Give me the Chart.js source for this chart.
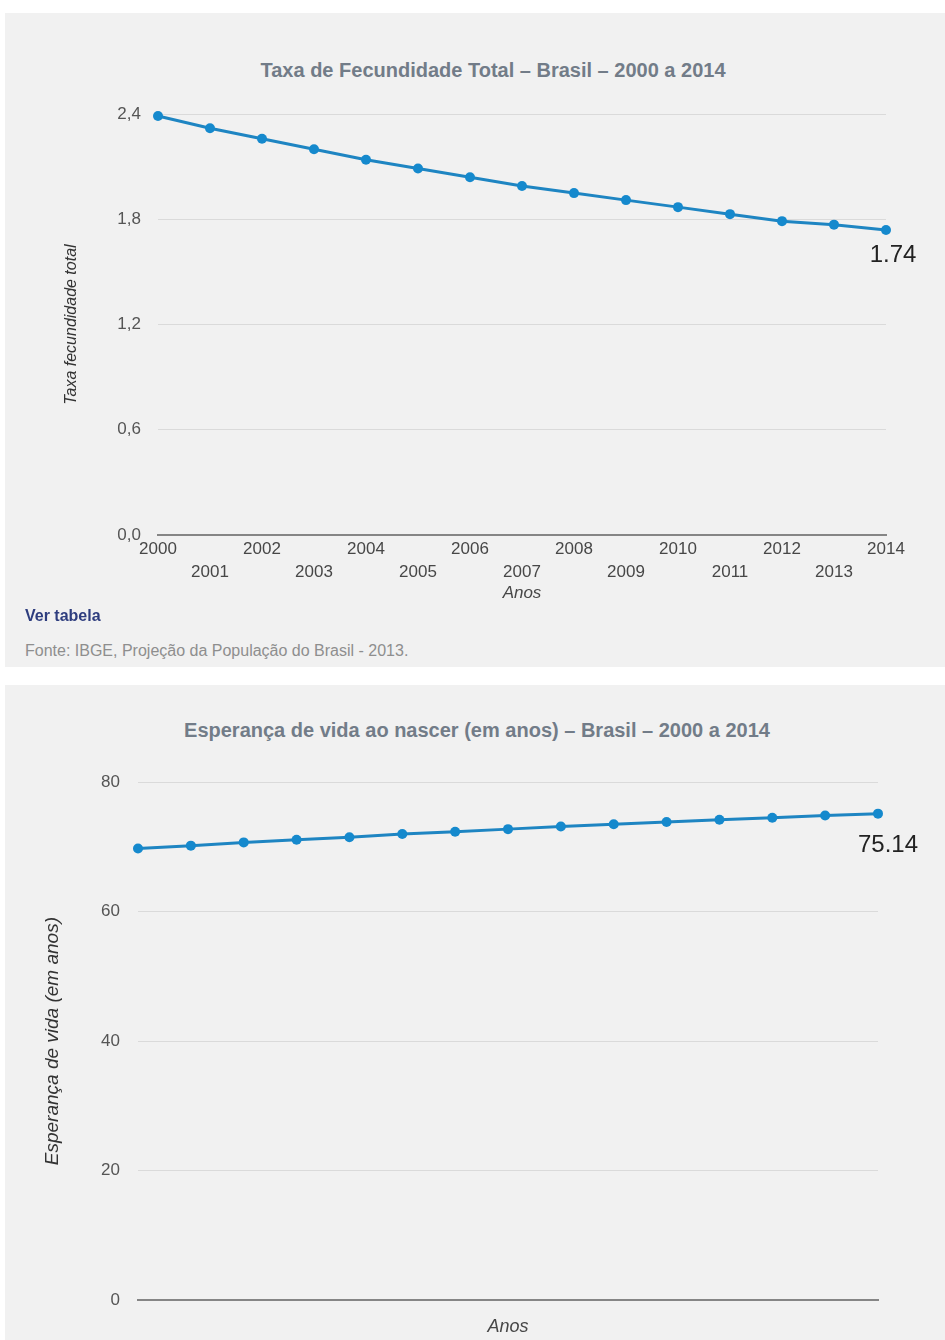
<!DOCTYPE html>
<html lang="pt-BR">
<head>
<meta charset="utf-8">
<title>Fecundidade e esperança de vida – Brasil – 2000 a 2014</title>
<script src="https://cdn.jsdelivr.net/npm/chart.js@4.4.1/dist/chart.umd.min.js"></script>
<style>
  html, body { margin: 0; padding: 0; background: #ffffff; }
  body { width: 945px; height: 1340px; position: relative; overflow: hidden;
         font-family: "Liberation Sans", Arial, sans-serif; }
  .panel { position: absolute; background: #f1f1f1; }
  #painel1 { left: 5px; top: 13px; width: 940px; height: 654px; }
  #painel2 { left: 5px; top: 685px; width: 940px; height: 655px; }
  .titulo { position: absolute; font-weight: bold; font-size: 20px; color: #727c88;
            white-space: nowrap; transform: translate(-50%, -50%); }
  .caixa { position: absolute; left: 0; }
  #caixa1 { top: 87px; width: 945px; height: 523px; }
  #caixa2 { top: 754px; width: 945px; height: 586px; }
  .link { position: absolute; left: 25px; top: 607px; font-size: 16px; font-weight: bold; color: #2e3d7e; }
  .fonte { position: absolute; left: 25px; top: 642px; font-size: 16px; color: #8e8e8e; }
</style>
</head>
<body>
<div class="panel" id="painel1"></div>
<div class="panel" id="painel2"></div>

<div class="titulo" style="left:493px; top:70px;">Taxa de Fecundidade Total – Brasil – 2000 a 2014</div>
<div class="titulo" style="left:477px; top:730px;">Esperança de vida ao nascer (em anos) – Brasil – 2000 a 2014</div>

<div class="caixa" id="caixa1"><canvas id="graficoFecundidade" width="945" height="523"></canvas></div>
<div class="link">Ver tabela</div>
<div class="fonte">Fonte: IBGE, Projeção da População do Brasil - 2013.</div>

<div class="caixa" id="caixa2"><canvas id="graficoEsperanca" width="945" height="586"></canvas></div>

<script>
// Anos da série
const anos = ['2000', '2001', '2002', '2003', '2004', '2005', '2006', '2007',
              '2008', '2009', '2010', '2011', '2012', '2013', '2014'];

// Taxa de fecundidade total (filhos por mulher)
const taxaFecundidade = [2.39, 2.32, 2.26, 2.20, 2.14, 2.09, 2.04, 1.99,
                         1.95, 1.91, 1.87, 1.83, 1.79, 1.77, 1.74];

// Esperança de vida ao nascer (em anos)
const esperancaVida = [69.75, 70.20, 70.70, 71.10, 71.50, 72.00, 72.35, 72.75,
                       73.15, 73.50, 73.85, 74.20, 74.50, 74.85, 75.14];

// Marcas dos eixos verticais
const marcasFecundidade = [0, 0.6, 1.2, 1.8, 2.4];
const marcasEsperanca = [0, 20, 40, 60, 80];

const FONTE = '"Liberation Sans", Arial, sans-serif';
const AZUL_LINHA = '#1e85c2';
const AZUL_PONTO = '#1589cd';

// Escreve o valor do último ponto logo abaixo dele
const rotuloFinal = {
  id: 'rotuloFinal',
  afterDatasetsDraw(chart, args, opts) {
    const meta = chart.getDatasetMeta(0);
    const i = meta.data.length - 1;
    const ponto = meta.data[i];
    const valor = chart.data.datasets[0].data[i];
    const ctx = chart.ctx;
    ctx.save();
    ctx.font = '24px ' + FONTE;
    ctx.fillStyle = '#222222';
    ctx.textAlign = 'center';
    ctx.textBaseline = 'middle';
    ctx.fillText(valor.toFixed(2), ponto.x + opts.dx, ponto.y + opts.dy);
    ctx.restore();
  }
};

function serie(dados) {
  return {
    data: dados,
    borderColor: AZUL_LINHA,
    borderWidth: 3,
    pointRadius: 5,
    pointBackgroundColor: AZUL_PONTO,
    pointBorderColor: AZUL_PONTO,
    pointBorderWidth: 0,
    tension: 0,
    fill: false,
    clip: false
  };
}

const corGrade = (ctx) => (ctx.tick && ctx.tick.value === 0) ? 'rgba(0,0,0,0)' : '#dadada';

// Gráfico 1: taxa de fecundidade total
new Chart(document.getElementById('graficoFecundidade'), {
  type: 'line',
  data: { labels: anos, datasets: [serie(taxaFecundidade)] },
  plugins: [rotuloFinal],
  options: {
    responsive: false,
    animation: false,
    devicePixelRatio: 1,
    layout: { padding: { top: 0, right: 59, bottom: 0, left: 0 } },
    plugins: {
      legend: { display: false },
      tooltip: { enabled: false },
      rotuloFinal: { dx: 7, dy: 25 }
    },
    scales: {
      x: {
        offset: false,
        grid: { display: false, drawTicks: false },
        border: { display: true, color: '#858585', width: 2 },
        ticks: {
          autoSkip: false, maxRotation: 0, minRotation: 0, padding: 3,
          color: '#474747',
          font: { family: FONTE, size: 17, lineHeight: 1.35 },
          callback: function (v, i) {
            const rotulo = this.getLabelForValue(v);
            return i % 2 === 0 ? [rotulo, ''] : ['', rotulo];
          }
        },
        title: {
          display: true, text: 'Anos', color: '#474747',
          font: { family: FONTE, size: 17, style: 'italic' },
          padding: { top: 0, bottom: 7 }
        },
        afterFit: (s) => { s.height = 75; }
      },
      y: {
        min: 0, max: 2.4,
        afterBuildTicks: (s) => { s.ticks = marcasFecundidade.map(v => ({ value: v })); },
        grid: { color: corGrade, lineWidth: 1, drawTicks: false },
        border: { display: false },
        ticks: {
          padding: 17, color: '#555555',
          font: { family: FONTE, size: 17 },
          callback: (v) => Number(v).toFixed(1).replace('.', ',')
        },
        title: {
          display: true, text: 'Taxa fecundidade total', color: '#333333',
          font: { family: FONTE, size: 16, style: 'italic' },
          padding: { top: 62, bottom: 0 }
        },
        afterFit: (s) => { s.width = 158; }
      }
    }
  }
});

// Gráfico 2: esperança de vida ao nascer
new Chart(document.getElementById('graficoEsperanca'), {
  type: 'line',
  data: { labels: anos, datasets: [serie(esperancaVida)] },
  plugins: [rotuloFinal],
  options: {
    responsive: false,
    animation: false,
    devicePixelRatio: 1,
    layout: { padding: { top: 0, right: 67, bottom: 0, left: 0 } },
    plugins: {
      legend: { display: false },
      tooltip: { enabled: false },
      rotuloFinal: { dx: 10, dy: 32 }
    },
    scales: {
      x: {
        offset: false,
        grid: { display: false, drawTicks: false },
        border: { display: true, color: '#858585', width: 2 },
        ticks: { display: false },
        title: {
          display: true, text: 'Anos', color: '#474747',
          font: { family: FONTE, size: 18, style: 'italic' },
          padding: { top: 0, bottom: 2 }
        },
        afterFit: (s) => { s.height = 40; }
      },
      y: {
        min: 0, max: 80,
        afterBuildTicks: (s) => { s.ticks = marcasEsperanca.map(v => ({ value: v })); },
        grid: { color: corGrade, lineWidth: 1, drawTicks: false },
        border: { display: false },
        ticks: {
          padding: 18, color: '#555555',
          font: { family: FONTE, size: 17 }
        },
        title: {
          display: true, text: 'Esperança de vida (em anos)', color: '#333333',
          font: { family: FONTE, size: 19, style: 'italic' },
          padding: { top: 41, bottom: 0 }
        },
        afterFit: (s) => { s.width = 138; }
      }
    }
  }
});
</script>
</body>
</html>
